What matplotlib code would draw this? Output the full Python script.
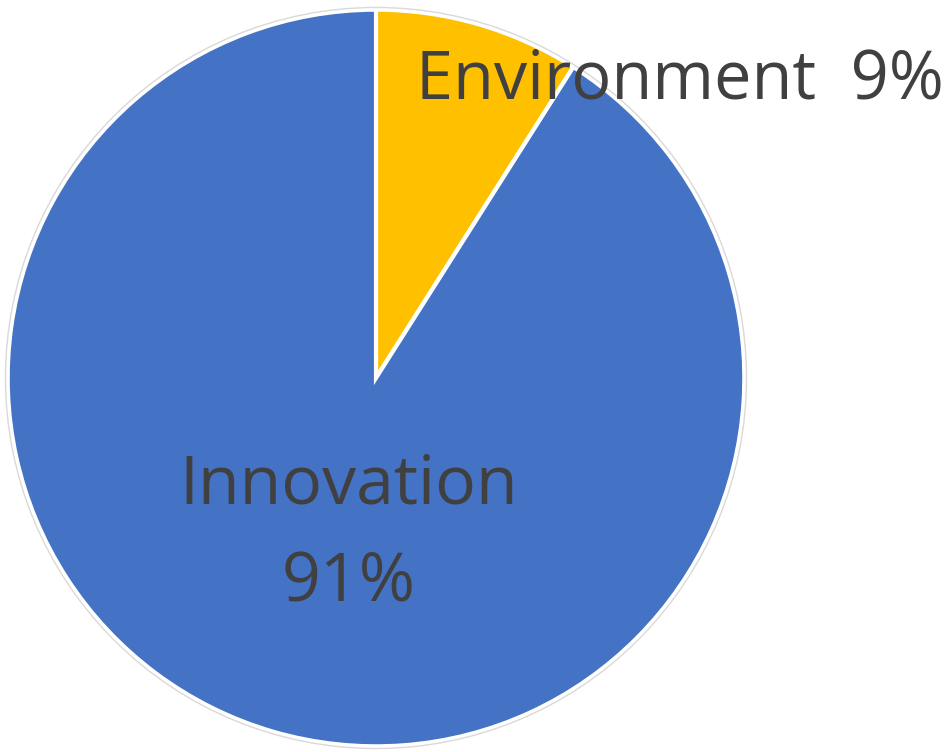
import matplotlib.pyplot as plt

labels = ["Environment", "Innovation"]
shares = [9, 91]
colors = ["#FFC000", "#4472C4"]

# label anchor points, in units of the pie radius
label_pos = [(0.825, 0.806), (-0.075, -0.425)]
label_text = ["Environment  9%", "Innovation\n91%"]
label_size = [48, 49]

fig = plt.figure(figsize=(9.53, 7.52), dpi=100)
ax = fig.add_axes([4 / 953, 2 / 752, 744 / 953, 744 / 752])
ax.pie(shares, colors=colors, startangle=90, counterclock=False,
       wedgeprops=dict(edgecolor="white", linewidth=3))
ax.add_patch(plt.Circle((0, 0), 1.006, fill=False, edgecolor="#d9d9d9", linewidth=1))
ax.set_xlim(-1.01, 1.01)
ax.set_ylim(-1.01, 1.01)
ax.set_aspect("equal")
ax.axis("off")

for (x, y), t, s in zip(label_pos, label_text, label_size):
    ax.text(x, y, t, ha="center", va="center", fontsize=s, color="#404040",
            family="Open Sans", linespacing=1.6, clip_on=False)

fig.savefig("out.png", dpi=100)
